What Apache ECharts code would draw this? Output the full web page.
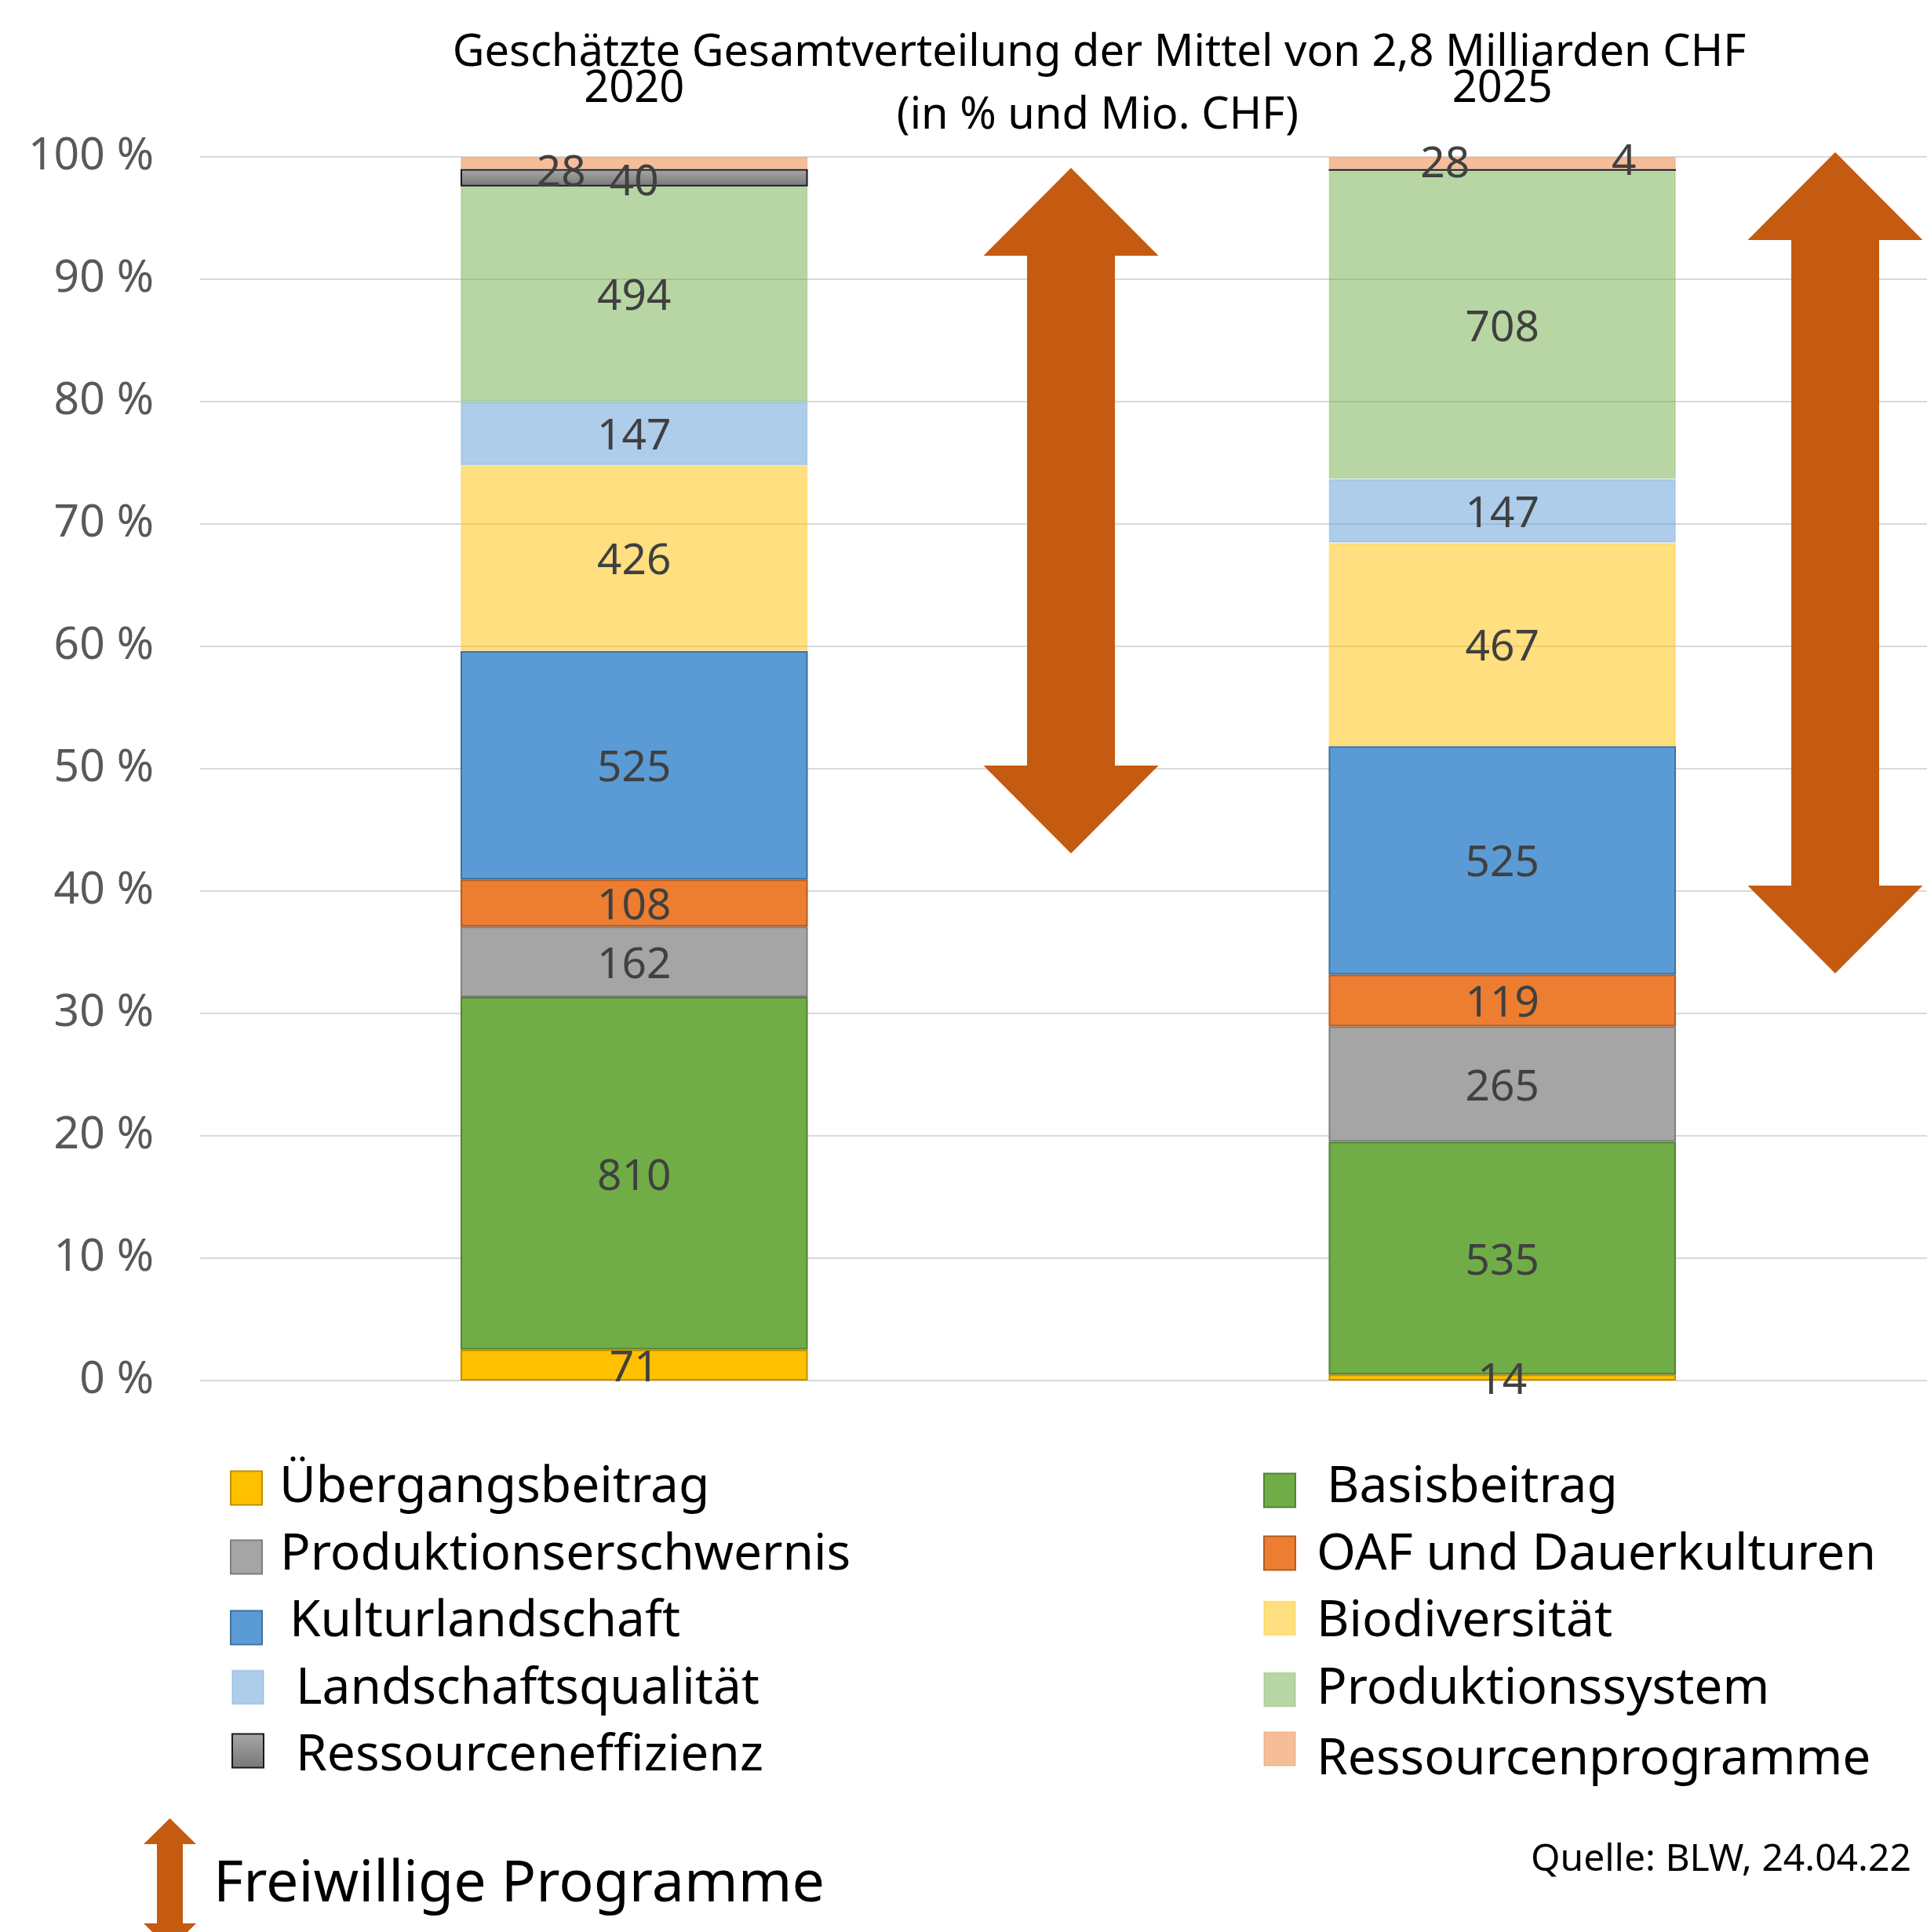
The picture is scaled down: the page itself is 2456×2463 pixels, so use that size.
<!DOCTYPE html>
<html>
<head>
<meta charset="utf-8">
<script src="https://cdn.jsdelivr.net/npm/echarts@6/dist/echarts.min.js"></script>
<style>
  html, body { margin: 0; padding: 0; background: #fff; }
  #chart { width: 2456px; height: 2463px; }
</style>
</head>
<body>
<div id="chart"></div>
<script>
// Jahre
const categories = ['2020', '2025']
// Mio. CHF pro Beitragsart, von unten nach oben gestapelt
const uebergangsbeitrag = [71, 14]
const basisbeitrag = [810, 535]
const produktionserschwernis = [162, 265]
const oafDauerkulturen = [108, 119]
const kulturlandschaft = [525, 525]
const biodiversitaet = [426, 467]
const landschaftsqualitaet = [147, 147]
const produktionssystem = [494, 708]
const ressourceneffizienz = [40, 4]
const ressourcenprogramme = [28, 28]
const yTicks = [0, 10, 20, 30, 40, 50, 60, 70, 80, 90, 100]

const FONT = 'Noto Sans'

// helle Farben sind halbtransparent (Gitterlinien scheinen durch)
const stackList = [
  { name: 'Übergangsbeitrag', values: uebergangsbeitrag, color: '#FFC000', border: '#BF9000' },
  { name: 'Basisbeitrag', values: basisbeitrag, color: '#70AD47', border: '#548235' },
  { name: 'Produktionserschwernis', values: produktionserschwernis, color: '#A5A5A5', border: '#7F7F7F' },
  { name: 'OAF und Dauerkulturen', values: oafDauerkulturen, color: '#ED7D31', border: '#B45C22' },
  { name: 'Kulturlandschaft', values: kulturlandschaft, color: '#5B9BD5', border: '#41719C' },
  { name: 'Biodiversität', values: biodiversitaet, color: 'rgba(255,192,0,0.5)', border: 'rgba(255,192,0,0.25)' },
  { name: 'Landschaftsqualität', values: landschaftsqualitaet, color: 'rgba(91,155,213,0.5)', border: 'rgba(91,155,213,0.25)' },
  { name: 'Produktionssystem', values: produktionssystem, color: 'rgba(112,173,71,0.5)', border: 'rgba(112,173,71,0.25)' },
  {
    name: 'Ressourceneffizienz',
    values: ressourceneffizienz,
    color: new echarts.graphic.LinearGradient(0, 0, 0, 1, [
      { offset: 0, color: '#A8A8A8' },
      { offset: 1, color: '#777777' }
    ]),
    border: '#1A1A1A'
  },
  { name: 'Ressourcenprogramme', values: ressourcenprogramme, color: 'rgba(237,125,49,0.5)', border: 'rgba(237,125,49,0.25)' }
]

// Summe pro Jahr -> Anteile in %
const totals = categories.map((c, i) => stackList.reduce((s, it) => s + it.values[i], 0))

// einzelne Labels verschoben (wie im Original)
const labelOffsets = {
  'Ressourcenprogramme': [[-93, 14], [-73, 3]],
  'Ressourceneffizienz': [[0, 7], [155, -9]]
}

const series = stackList.map((item) => {
  return {
    name: item.name,
    type: 'bar',
    stack: 'total',
    barWidth: '40%',
    itemStyle: {
      color: item.color,
      borderColor: item.border,
      borderWidth: 2
    },
    label: {
      show: true,
      position: 'inside',
      offset: [0, 5],
      fontFamily: FONT,
      fontSize: 55,
      color: '#404040',
      formatter: (p) => String(item.values[p.dataIndex])
    },
    data: item.values.map((v, i) => {
      const d = { value: v / totals[i] * 100 }
      if (labelOffsets[item.name]) {
        d.label = { offset: labelOffsets[item.name][i] }
      }
      return d
    })
  }
})

// Legende: ein Eintrag pro Komponente, weil die Abstaende ungleich sind
// [name, left, top, Textabstand, vertikale Verschiebung]
const legendPlaces = [
  ['Übergangsbeitrag', 293, 1865, 17, 0],
  ['Produktionserschwernis', 293, 1951, 18, -2],
  ['Kulturlandschaft', 293, 2036, 30, -7],
  ['Landschaftsqualität', 295, 2122, 36, 3],
  ['Ressourceneffizienz', 295, 2207, 36, 7],
  ['Basisbeitrag', 1610, 1865, 35, -3],
  ['OAF und Dauerkulturen', 1610, 1951, 22, 3],
  ['Biodiversität', 1610, 2036, 22, 5],
  ['Produktionssystem', 1610, 2122, 22, 0],
  ['Ressourcenprogramme', 1610, 2207, 22, 14]
]
const legends = legendPlaces.map((l) => {
  const dy = l[4]
  return {
    data: [l[0]],
    left: l[1],
    top: l[2],
    padding: 0,
    selectedMode: false,
    icon: 'rect',
    itemWidth: 40,
    itemHeight: 43,
    formatter: '{t|{name}}',
    textStyle: {
      fontFamily: FONT,
      fontSize: 64,
      color: '#000',
      rich: {
        t: {
          fontFamily: FONT,
          fontSize: 64,
          color: '#000',
          padding: dy >= 0 ? [2 * dy, 0, 0, l[3]] : [0, 0, -2 * dy, l[3]]
        }
      }
    }
  }
})

function arrow (cx, top, bottom, headW, shaftW, headH) {
  const hw = headW / 2
  const sw = shaftW / 2
  return [
    [cx, top], [cx + hw, top + headH], [cx + sw, top + headH],
    [cx + sw, bottom - headH], [cx + hw, bottom - headH], [cx, bottom],
    [cx - hw, bottom - headH], [cx - sw, bottom - headH],
    [cx - sw, top + headH], [cx - hw, top + headH]
  ]
}

const chart = echarts.init(document.getElementById('chart'), null, { renderer: 'canvas' })
chart.setOption({
  animation: false,
  backgroundColor: '#fff',
  grid: {
    left: 255,
    right: -12,
    top: 200,
    bottom: 703,
    containLabel: false,
    outerBoundsMode: 'none'
  },
  legend: legends,
  xAxis: {
    type: 'category',
    data: categories,
    position: 'top',
    axisLine: { show: false },
    axisTick: { show: false },
    axisLabel: {
      fontFamily: FONT,
      fontSize: 56,
      color: '#000',
      margin: 86,
      verticalAlign: 'middle'
    }
  },
  yAxis: {
    type: 'value',
    min: yTicks[0],
    max: yTicks[yTicks.length - 1],
    interval: yTicks[1] - yTicks[0],
    axisLine: { show: false },
    axisTick: { show: false },
    splitLine: { lineStyle: { color: '#D9D9D9', width: 2 } },
    axisLabel: {
      formatter: '{value} %',
      fontFamily: FONT,
      fontSize: 57,
      color: '#595959',
      margin: 59
    }
  },
  series: series,
  graphic: [
    {
      type: 'text',
      z: 100,
      style: {
        text: 'Geschätzte Gesamtverteilung der Mittel von 2,8 Milliarden CHF',
        x: 1401, y: 68,
        textAlign: 'center', textVerticalAlign: 'middle',
        fontFamily: FONT, fontSize: 56, fill: '#000'
      }
    },
    {
      type: 'text',
      z: 100,
      style: {
        text: '(in % und Mio. CHF)',
        x: 1399, y: 148,
        textAlign: 'center', textVerticalAlign: 'middle',
        fontFamily: FONT, fontSize: 56, fill: '#000'
      }
    },
    { type: 'polygon', z: 50, shape: { points: arrow(1365, 214, 1088, 223, 112, 112) }, style: { fill: '#C55A11' } },
    { type: 'polygon', z: 50, shape: { points: arrow(2339, 194, 1241, 223, 112, 112) }, style: { fill: '#C55A11' } },
    { type: 'polygon', z: 50, shape: { points: arrow(216.5, 2318, 2485, 67, 33, 33) }, style: { fill: '#C55A11' } },
    {
      type: 'text',
      style: {
        text: 'Freiwillige Programme',
        x: 272, y: 2403,
        textAlign: 'left', textVerticalAlign: 'middle',
        fontFamily: FONT, fontSize: 73.5, fill: '#000'
      }
    },
    {
      type: 'text',
      style: {
        text: 'Quelle: BLW, 24.04.22',
        x: 1951, y: 2371,
        textAlign: 'left', textVerticalAlign: 'middle',
        fontFamily: FONT, fontSize: 48, fill: '#000'
      }
    }
  ]
})
</script>
</body>
</html>
